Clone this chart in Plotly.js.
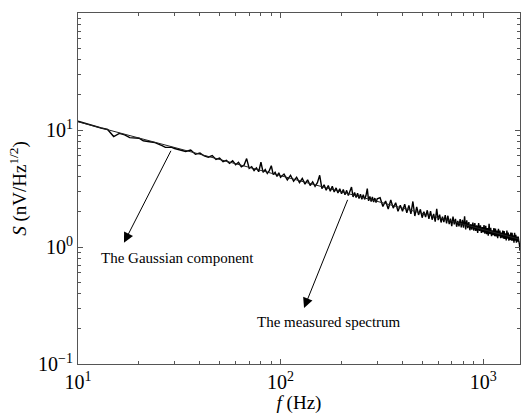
<!DOCTYPE html>
<html>
<head>
<meta charset="utf-8">
<script src="https://cdn.plot.ly/plotly-3.0.1.min.js"></script>
<style>html,body{margin:0;padding:0;background:#fff;}#chart{width:529px;height:414px;}</style>
</head>
<body>
<div id="chart"></div>
<script>
// Measured spectrum: frequency (Hz) and amplitude S (nV/Hz^1/2)
var measuredFreq = [
  10,11,12,13,14,15,16,17,18,19,20,21,22,23,24,25,26,27,28,29,30,
  32,34,36,38,40,42,44,46,48,50,52,54,56,58,60,62,64,66,68,70,72,74,76,78,80,82,84,86,88,90,92,94,96,98,100,
  104,108,112,116,120,124,128,132,136,140,144,148,152,156,160,164,168,172,176,180,184,188,192,196,200,
  204,208,212,216,220,224,228,232,236,240,244,248,252,256,260,264,268,272,276,280,284,288,292,296,300,
  310,320,330,340,350,360,370,380,390,400,410,420,430,440,450,460,470,480,490,500,
  510,520,530,540,550,560,570,580,590,600,610,620,630,640,650,660,670,680,690,700,
  710,720,730,740,750,760,770,780,790,800,810,820,830,840,850,860,870,880,890,900,
  910,920,930,940,950,960,970,980,990,1000,1010,1020,1030,1040,1050,1060,1070,1080,1090,1100,
  1110,1120,1130,1140,1150,1160,1170,1180,1190,1200,1210,1220,1230,1240,1250,1260,1270,1280,1290,1300,
  1310,1320,1330,1340,1350,1360,1370,1380,1390,1400,1410,1420,1430,1440,1450,1460,1470,1480,1490,1500,
  1510,1520
];
var measuredS = [
  11.9,11.3,10.75,10.4,10.1,8.8,9.35,9.1,8.6,8.55,8.5,8.1,7.95,7.9,7.8,7.6,7.35,7.1,7.05,7.1,6.95,
  6.75,6.55,6.75,6.2,6.35,6.0,5.85,6.05,5.6,5.75,5.35,5.5,5.2,5.45,5.05,5.3,4.85,5.0,5.7,4.7,4.85,4.5,4.75,4.4,5.3,4.35,4.6,4.25,4.5,4.95,4.15,4.35,4.0,4.3,3.95,
  4.2,3.75,4.1,3.65,3.95,3.55,3.85,3.45,3.75,3.35,3.6,3.3,3.55,4.1,3.15,3.4,3.05,3.35,3.0,3.3,2.95,3.2,2.9,3.15,2.85,
  3.1,2.8,3.05,2.75,3.0,3.25,2.68,2.92,2.65,2.88,2.6,2.83,2.56,2.8,2.55,2.75,3.15,2.48,2.7,2.45,2.68,2.42,2.62,2.4,2.58,
  2.64,2.22,2.47,2.11,2.52,2.15,2.39,2.02,2.27,2.02,2.32,1.96,2.27,1.92,2.45,1.84,2.20,1.88,2.10,1.78,
  2.00,1.80,2.06,1.74,2.03,1.71,1.92,1.65,2.12,1.70,1.89,1.62,1.82,1.63,1.87,1.59,1.85,1.57,1.75,1.51,
  1.82,1.56,1.74,1.49,1.67,1.50,1.73,1.47,1.71,1.46,1.83,1.41,1.69,1.45,1.63,1.39,1.57,1.41,1.62,1.38,
  1.60,1.37,1.53,1.32,1.60,1.37,1.53,1.32,1.48,1.33,1.54,1.30,1.52,1.29,1.45,1.25,1.58,1.29,1.46,1.24,
  1.39,1.26,1.45,1.24,1.44,1.23,1.38,1.19,1.43,1.24,1.38,1.19,1.33,1.20,1.38,1.18,1.37,1.17,1.31,1.14,
  1.38,1.18,1.33,1.13,1.28,1.15,1.33,1.13,1.32,1.13,1.26,1.09,1.32,1.13,1.27,1.09,1.23,1.11,1.23,1.12,
  1.06,0.93
];
// Gaussian component (smooth curve)
var gaussFreq = [10,12,15,18,22,27,33,40,50,62,75,90,110,135,165,200,250,300,370,450,550,670,820,1000,1200,1500];
var gaussS = [11.75,10.8,9.75,8.97,8.18,7.44,6.79,6.21,5.61,5.08,4.65,4.28,3.9,3.55,3.24,2.96,2.67,2.46,2.23,2.04,1.86,1.70,1.55,1.41,1.30,1.17];

// Tick labels
var xTickVals = [10, 100, 1000];
var xTickText = ['10<sup>1</sup>', '10<sup>2</sup>', '10<sup>3</sup>'];
var yTickVals = [0.1, 1, 10, 100];
var yTickText = ['10<sup>\u22121</sup>', '10<sup>0</sup>', '10<sup>1</sup>', '10<sup>2</sup>'];

// Labels
var xTitle = '<i>f</i> (Hz)';
var yTitle = '<i>S</i> (nV/Hz<sup>1/2</sup>)';
var labelGauss = 'The Gaussian component';
var labelMeasured = 'The measured spectrum';

var serif = "'Liberation Serif', 'Times New Roman', serif";
var axisColor = '#555';

var traces = [
  {x: measuredFreq, y: measuredS, type: 'scatter', mode: 'lines',
   line: {color: '#000', width: 1.4}, hoverinfo: 'skip'},
  {x: gaussFreq, y: gaussS, type: 'scatter', mode: 'lines',
   line: {color: '#222', width: 1}, hoverinfo: 'skip'}
];

function axisBase(vals, text) {
  return {
    type: 'log', tickmode: 'array', tickvals: vals, ticktext: text,
    showline: true, linecolor: axisColor, linewidth: 1, mirror: 'ticks',
    ticks: 'inside', ticklen: 5, tickcolor: axisColor, tickwidth: 1,
    showgrid: false, zeroline: false,
    tickfont: {family: serif, size: 20, color: '#000'},
    minor: {ticks: 'inside', ticklen: 3, tickcolor: axisColor, dtick: 'D1', showgrid: false}
  };
}
var xa = axisBase(xTickVals, xTickText);
xa.range = [1, 3.182];
xa.title = {text: xTitle, font: {family: serif, size: 19, color: '#000'}, standoff: 0};
var ya = axisBase(yTickVals, yTickText);
ya.range = [-1, 2];
ya.title = {text: yTitle, font: {family: serif, size: 19, color: '#000'}, standoff: 6};

var arrowStyle = {showarrow: true, arrowhead: 2, arrowsize: 2, arrowwidth: 1, arrowcolor: '#000',
                  axref: 'x', ayref: 'y', xref: 'x', yref: 'y', text: ''};
var annotations = [
  Object.assign({}, arrowStyle, {x: 1.227, y: 0.037, ax: 1.4625, ay: 0.835}),
  Object.assign({}, arrowStyle, {x: 2.116, y: -0.521, ax: 2.334, ay: 0.416}),
  {x: 1.491, y: -0.0915, xref: 'x', yref: 'y', text: labelGauss, showarrow: false,
   font: {family: serif, size: 15, color: '#000'}},
  {x: 2.238, y: -0.638, xref: 'x', yref: 'y', text: labelMeasured, showarrow: false,
   font: {family: serif, size: 15, color: '#000'}}
];

var layout = {
  width: 529, height: 414,
  margin: {l: 78, r: 9, t: 13, b: 50},
  paper_bgcolor: '#fff', plot_bgcolor: '#fff',
  showlegend: false,
  font: {family: serif, size: 18, color: '#000'},
  xaxis: xa, yaxis: ya,
  annotations: annotations
};

Plotly.newPlot('chart', traces, layout, {displayModeBar: false, staticPlot: true});
</script>
</body>
</html>
